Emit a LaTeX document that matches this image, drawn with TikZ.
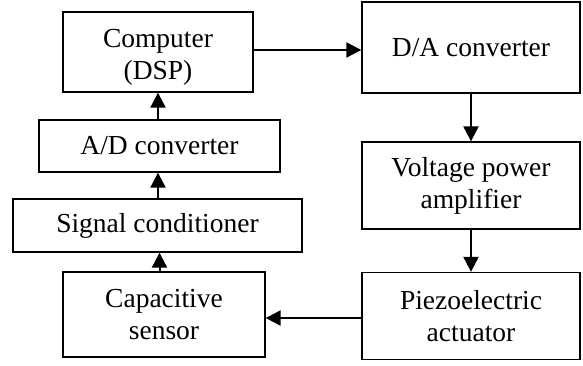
\documentclass[tikz,border=0pt]{standalone}
\usepackage{fontspec}
\setmainfont{Liberation Serif}
\usetikzlibrary{arrows.meta}
\begin{document}
\begin{tikzpicture}[x=1pt,y=-1pt,
  blk/.style={draw,line width=1.3pt,inner sep=0pt,align=center,
    font=\fontsize{27.5}{32}\selectfont},
  arr/.style={line width=2pt,-{Triangle[length=15pt,width=15pt]}}]
\useasboundingbox (0,0) rectangle (583,365);
\node[blk,minimum width=190pt,minimum height=80pt] (comp) at (158,52)
  {\raisebox{-5pt}[\height][\depth]{\begin{tabular}{@{}c@{}}Computer\\(DSP)\end{tabular}}};
\node[blk,minimum width=241pt,minimum height=52pt] (ad) at (159.5,146) {A/D converter};
\node[blk,minimum width=289pt,minimum height=53pt] (sig) at (157.5,225.5) {Signal conditioner};
\node[blk,minimum width=202pt,minimum height=85pt] (cap) at (164,314.5) {Capacitive\\sensor};
\node[blk,minimum width=218pt,minimum height=91pt] (da) at (471,47.5) {D/A converter};
\node[blk,minimum width=218pt,minimum height=87pt] (volt) at (471,185.5) {Voltage power\\amplifier};
\node[blk,minimum width=218pt,minimum height=87pt] (piezo) at (471,316) {Piezoelectric\\actuator};
\draw[arr] ([yshift=2pt]comp.east) -- ([yshift=2pt]comp.east -| da.west);
\draw[arr] (da.south) -- (volt.north);
\draw[arr] (volt.south) -- (piezo.north);
\draw[arr] ([yshift=-2pt]piezo.west) -- ([yshift=-2pt]piezo.west -| cap.east);
\draw[arr] (ad.south |- cap.north) -- (ad.south |- sig.south);
\draw[arr] (comp.south |- sig.north) -- (comp.south |- ad.south);
\draw[arr] (comp.south |- ad.north) -- (comp.south);
\end{tikzpicture}
\end{document}
